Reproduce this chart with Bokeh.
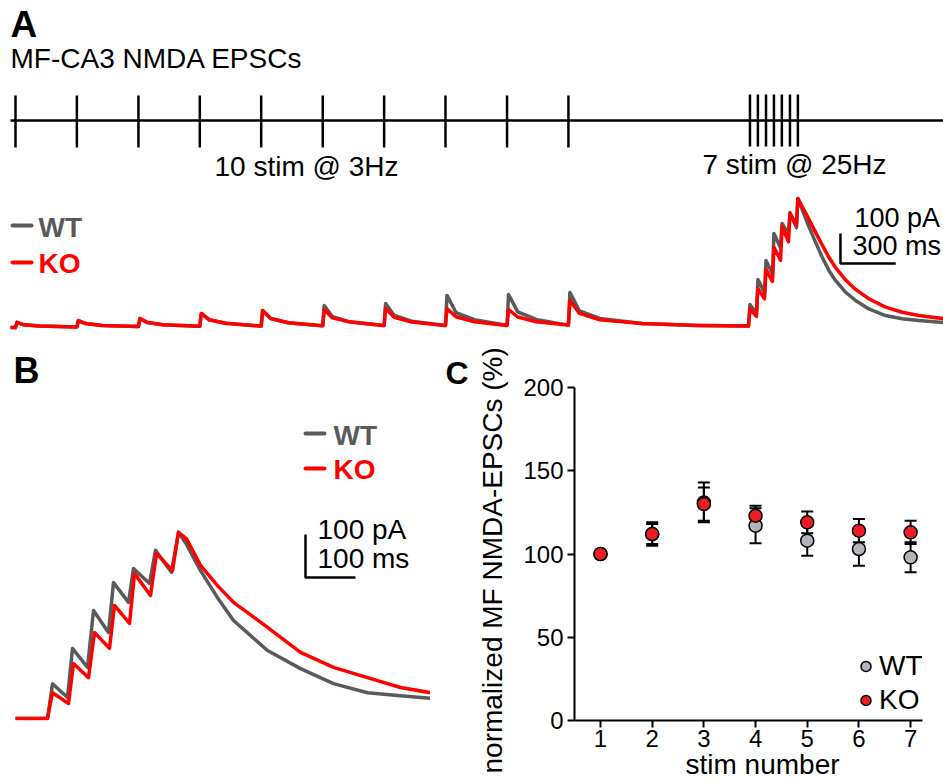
from bokeh.plotting import figure
from bokeh.models import (Range1d, ColumnDataSource, Whisker, TeeHead, Legend,
                          LegendItem, FixedTicker, Title)
from bokeh.layouts import column, row
from bokeh.embed import file_html
from bokeh.resources import INLINE
from bokeh.core.properties import value

FONT = "Liberation Sans"
WT_LINE = "#5a5a5a"
KO_LINE = "#ff0000"
WT_FILL = "#b3b3bb"
KO_FILL = "#ee1d23"

# ---------------- Panel A data (time in ms, current in pA) ----------------
stim_3hz_ms = [0, 333, 667, 1000, 1333, 1667, 2000, 2333, 2667, 3000]
stim_25hz_ms = [3985, 4028, 4072, 4115, 4158, 4202, 4245]

a_ms = [-27,
        0, 8, 45, 130, 330,
        333, 341, 380, 470, 663,
        667, 675, 715, 800, 997,
        1000, 1008, 1050, 1140, 1330,
        1333, 1341, 1385, 1480, 1663,
        1667, 1675, 1720, 1815, 1997,
        2000, 2008, 2055, 2150, 2330,
        2333, 2341, 2390, 2490, 2663,
        2667, 2675, 2725, 2825, 2997,
        3000, 3008, 3060, 3170, 3400, 3700,
        3977, 3985, 4020, 4028, 4064, 4072, 4107, 4115, 4151, 4159, 4194, 4202, 4237, 4245,
        4295, 4341, 4377, 4413, 4449, 4503, 4558, 4630, 4720, 4811, 4901, 5040]
a_wt_pA = [0,
           0, 17, 9, 5, 2,
           2, 23, 13, 7, 3,
           3, 30, 17, 9, 4,
           4, 47, 26, 14, 5,
           5, 57, 30, 16, 6,
           6, 73, 36, 19, 7,
           7, 80, 40, 21, 7,
           7, 107, 50, 26, 8,
           8, 110, 52, 27, 8,
           8, 117, 55, 30, 13, 7,
           5, 77, 46, 160, 117, 223, 178, 313, 266, 347, 312, 383, 333, 430,
           351, 284, 234, 190, 157, 118, 90, 62, 40, 29, 23, 16]
a_ko_pA = [0,
           0, 17, 9, 5, 2,
           2, 23, 13, 7, 3,
           3, 30, 17, 9, 4,
           4, 47, 26, 14, 5,
           5, 57, 30, 16, 6,
           6, 60, 32, 18, 7,
           7, 63, 34, 18, 7,
           7, 63, 36, 19, 7,
           7, 60, 35, 19, 8,
           8, 90, 47, 26, 13, 7,
           5, 63, 37, 130, 96, 193, 154, 267, 224, 337, 286, 380, 342, 430,
           372, 317, 275, 234, 200, 159, 127, 96, 68, 51, 40, 29]

# ---------------- Panel B data (25 Hz burst, ms from first stim) ----------------
b_wt_ms = [-64, 0, 10, 40, 50, 80, 92, 122, 132, 162, 172, 204, 216, 248, 262,
           278, 306, 340, 372, 440, 506, 572, 640, 706, 766]
b_wt_pA = [0, 0, 81, 49, 163, 119, 251, 200, 316, 270, 349, 314, 391, 340, 433,
           405, 344, 281, 228, 158, 116, 81, 60, 53, 47]
b_ko_ms = [-64, 0, 10, 42, 52, 82, 94, 124, 134, 164, 174, 206, 218, 250, 262,
           278, 306, 340, 372, 440, 506, 572, 640, 706, 766]
b_ko_pA = [0, 0, 60, 35, 128, 95, 200, 163, 263, 221, 337, 286, 384, 344, 433,
           418, 356, 309, 270, 212, 154, 119, 95, 72, 60]

# ---------------- Panel C data ----------------
stim_number = [1, 2, 3, 4, 5, 6, 7]
wt_mean = [100, 112, 131, 117, 108, 103, 98]
wt_sem = [0, 6, 12, 10.5, 9, 10, 9]
ko_mean = [100, 112, 130, 123, 119, 114, 113]
ko_sem = [0, 7, 10, 6, 6.5, 7, 7]
y_ticks = [0, 50, 100, 150, 200]


def bare_fig(w, h, xr, yr, pxx, pxy, **kw):
    p = figure(width=w, height=h, x_range=Range1d(*xr), y_range=Range1d(*yr),
               output_backend="svg", toolbar_location=None,
               x_axis_type=None, y_axis_type=None,
               outline_line_color=None, background_fill_color="white",
               border_fill_color="white", **kw)
    p.extra_x_ranges = {"px": Range1d(*pxx)}
    p.extra_y_ranges = {"px": Range1d(*pxy)}
    return p


def txt(p, x, y, s, size, color="black", bold=False, align="left"):
    # y is the vertical centre of the capital letters
    p.text(x=[x], y=[y], text=[s], x_range_name="px", y_range_name="px",
           text_font=value(FONT), text_font_size=value(f"{size}px"),
           text_font_style="bold" if bold else "normal", text_color=color,
           text_align=align, text_baseline="middle")


def panel_title(p, letter, size, offset, standoff):
    p.title.text = letter
    p.title.align = "left"
    p.title.offset = offset
    p.title.vertical_align = "bottom"
    p.title.standoff = standoff
    p.title.text_font = FONT
    p.title.text_font_size = f"{size}px"
    p.title.text_font_style = "bold"
    p.title.text_color = "black"


# ================= Panel A =================
pa = bare_fig(943, 340, (-81.4, 5035), (-43.3, 1090), (0, 943), (340, 0), min_border=0)
txt(pa, 10, 23.5, "A", 37, bold=True)
txt(pa, 10, 57.5, "MF-CA3 NMDA EPSCs", 28)

# stimulation schematic
pa.segment(x0=[-27], x1=[5040], y0=[120], y1=[120], y_range_name="px",
           line_color="black", line_width=2.5)
pa.segment(x0=stim_3hz_ms, x1=stim_3hz_ms, y0=95, y1=147, y_range_name="px",
           line_color="black", line_width=2.5)
pa.segment(x0=stim_25hz_ms, x1=stim_25hz_ms, y0=94, y1=146, y_range_name="px",
           line_color="black", line_width=2.5)
txt(pa, 214, 166, "10 stim @ 3Hz", 28)
txt(pa, 702, 164, "7 stim @ 25Hz", 28)

# legend
pa.segment(x0=[12], x1=[31], y0=[225], y1=[225], x_range_name="px", y_range_name="px",
           line_color=WT_LINE, line_width=4, line_cap="round")
pa.segment(x0=[12], x1=[31], y0=[262], y1=[262], x_range_name="px", y_range_name="px",
           line_color=KO_LINE, line_width=4, line_cap="round")
txt(pa, 38, 227, "WT", 28, color=WT_LINE, bold=True)
txt(pa, 38, 262.5, "KO", 28, color=KO_LINE, bold=True)

# traces
pa.line(a_ms, a_wt_pA, line_color=WT_LINE, line_width=3.5, line_join="round")
pa.line(a_ms, a_ko_pA, line_color=KO_LINE, line_width=3.5, line_join="round")

# scale bar 100 pA / 300 ms
sa_t, sa_i = 4476, 213
pa.line([sa_t, sa_t, sa_t + 300], [sa_i + 100, sa_i, sa_i], line_color="black", line_width=2.5)
txt(pa, 854, 217.5, "100 pA", 27)
txt(pa, 852, 245.5, "300 ms", 27)

# ================= Panel B =================
# frame kept level with panel C's frame (page y 387..720)
pb = bare_fig(430, 441, (-94, 766), (-4.65, 769.8), (0, 430), (720, 387),
              min_border_left=0, min_border_right=0, min_border_top=47, min_border_bottom=61)
panel_title(pb, "B", 36, 13, -7)
pb.segment(x0=[305], x1=[324], y0=[433], y1=[433], x_range_name="px", y_range_name="px",
           line_color=WT_LINE, line_width=4, line_cap="round")
pb.segment(x0=[305], x1=[324], y0=[468], y1=[468], x_range_name="px", y_range_name="px",
           line_color=KO_LINE, line_width=4, line_cap="round")
txt(pb, 333, 435, "WT", 28, color=WT_LINE, bold=True)
txt(pb, 333, 469, "KO", 28, color=KO_LINE, bold=True)

pb.line(b_wt_ms, b_wt_pA, line_color=WT_LINE, line_width=3.5, line_join="round")
pb.line(b_ko_ms, b_ko_pA, line_color=KO_LINE, line_width=3.5, line_join="round")

sb_t, sb_i = 516, 328
pb.line([sb_t, sb_t, sb_t + 100], [sb_i + 100, sb_i, sb_i], line_color="black", line_width=2.5)
txt(pb, 317, 529, "100 pA", 28)
txt(pb, 317, 557.5, "100 ms", 28)

# ================= Panel C =================
pc = figure(width=513, height=441, x_range=Range1d(0.497, 7.23), y_range=Range1d(0, 200),
            output_backend="svg", toolbar_location=None,
            min_border_left=144, min_border_right=21, min_border_top=47, min_border_bottom=61,
            outline_line_color=None, background_fill_color="white", border_fill_color="white")
pc.grid.visible = False

for ax in (pc.xaxis[0], pc.yaxis[0]):
    ax.axis_line_width = 2
    ax.axis_line_color = "black"
    ax.major_tick_line_width = 2
    ax.major_tick_line_color = "black"
    ax.major_tick_out = 7
    ax.major_tick_in = 0
    ax.minor_tick_line_color = None
    ax.major_label_text_font = FONT
    ax.major_label_text_font_size = "24px"
    ax.major_label_text_color = "black"
pc.xaxis.ticker = FixedTicker(ticks=stim_number)
pc.yaxis.ticker = FixedTicker(ticks=y_ticks)
pc.xaxis.major_label_standoff = 2
pc.yaxis.major_label_standoff = 4

panel_title(pc, "C", 32, -129, -6)

# axis titles placed as side titles so they sit where the reference has them
xlab = Title(text="stim number", align="left", offset=111, vertical_align="top",
             standoff=-2, text_font=FONT, text_font_size="28px",
             text_font_style="normal", text_color="black")
pc.add_layout(xlab, "below")
ylab = Title(text="normalized MF NMDA-EPSCs (%)", align="left", offset=-53,
             vertical_align="bottom", standoff=26, text_font=FONT,
             text_font_size="28px", text_font_style="normal", text_color="black")
pc.add_layout(ylab, "left")

src_wt = ColumnDataSource(dict(x=stim_number, m=wt_mean,
                               lo=[m - s for m, s in zip(wt_mean, wt_sem)],
                               hi=[m + s for m, s in zip(wt_mean, wt_sem)]))
src_ko = ColumnDataSource(dict(x=stim_number, m=ko_mean,
                               lo=[m - s for m, s in zip(ko_mean, ko_sem)],
                               hi=[m + s for m, s in zip(ko_mean, ko_sem)]))
for src in (src_wt, src_ko):
    w = Whisker(base="x", lower="lo", upper="hi", source=src, level="underlay",
                line_color="black", line_width=2,
                upper_head=TeeHead(size=12, line_width=2, line_color="black"),
                lower_head=TeeHead(size=12, line_width=2, line_color="black"))
    pc.add_layout(w)

r_wt = pc.scatter("x", "m", source=src_wt, size=13, fill_color=WT_FILL,
                  line_color="black", line_width=1.5)
r_ko = pc.scatter("x", "m", source=src_ko, size=13, fill_color=KO_FILL,
                  line_color="black", line_width=1.5)

leg = Legend(items=[LegendItem(label="WT", renderers=[r_wt]),
                    LegendItem(label="KO", renderers=[r_ko])],
             location=(279, 4), orientation="vertical", glyph_width=25, glyph_height=32,
             label_standoff=1, spacing=2, padding=0, margin=0, border_line_color=None,
             background_fill_alpha=0, label_text_font=FONT, label_text_font_size="28px",
             label_text_color="black", label_height=32)
pc.add_layout(leg)

layout = column(pa, row(pb, pc))
open("out.html", "w").write(file_html(layout, INLINE))
